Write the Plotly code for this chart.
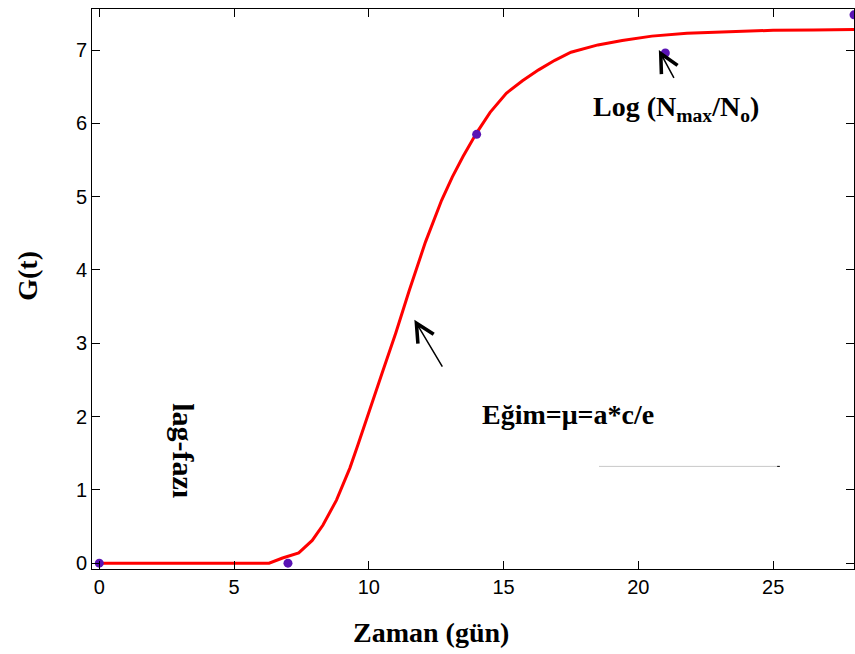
import plotly.graph_objects as go

# Fitted curve
curve_t = [0, 6.3, 6.8, 7.4, 7.9, 8.3, 8.8, 9.3, 9.6, 10.1, 10.5, 11.0, 11.5, 12.1,
           12.7, 13.1, 13.5, 14.0, 14.5, 15.1, 15.7, 16.3, 16.9, 17.5, 18.5, 19.4,
           20.5, 21.8, 22.6, 24.0, 25.0, 26.5, 28.0]
curve_g = [0, 0, 0.07, 0.14, 0.31, 0.52, 0.86, 1.30, 1.62, 2.15, 2.60, 3.14, 3.72, 4.38,
           4.95, 5.27, 5.55, 5.87, 6.15, 6.41, 6.58, 6.73, 6.86, 6.97, 7.07, 7.13,
           7.19, 7.23, 7.24, 7.26, 7.27, 7.275, 7.28]

# Observed points
obs_t = [0, 7, 14, 21, 28]
obs_g = [0, 0, 5.85, 6.96, 7.48]

x_ticks = [0, 5, 10, 15, 20, 25]
y_ticks = [0, 1, 2, 3, 4, 5, 6, 7]

serif = "Liberation Serif, Times New Roman, serif"
sans = "Liberation Sans, Arial, sans-serif"

fig = go.Figure()
fig.add_trace(go.Scatter(x=curve_t, y=curve_g, mode="lines",
                         line=dict(color="#ff0000", width=3),
                         showlegend=False, hoverinfo="skip"))
fig.add_trace(go.Scatter(x=obs_t, y=obs_g, mode="markers",
                         marker=dict(color="#5a14b4", size=9),
                         showlegend=False))

axis_common = dict(showline=True, linecolor="black", linewidth=1, mirror="ticks",
                   ticks="inside", ticklen=8, tickcolor="black", tickwidth=1,
                   showgrid=False, zeroline=False, automargin=False,
                   tickfont=dict(family=sans, size=20, color="black"))

fig.update_xaxes(range=[-0.27, 28.0], tickvals=x_ticks, **axis_common)
fig.update_yaxes(range=[-0.08, 7.56], tickvals=y_ticks, **axis_common)

annotations = [
    dict(text="<b>Zaman (gün)</b>", xref="paper", yref="paper", x=0.445, y=-0.114,
         xanchor="center", yanchor="middle", showarrow=False,
         font=dict(family=serif, size=28, color="black")),
    dict(text="<b>G(t)</b>", xref="paper", yref="paper", x=-0.085, y=0.524,
         xanchor="center", yanchor="middle", showarrow=False, textangle=-90,
         font=dict(family=serif, size=28, color="black")),
    dict(text="<b>Log (N<sub>max</sub>/N<sub>o</sub>)</b>", xref="x", yref="y",
         x=21.4, y=6.2, xanchor="center", yanchor="middle", showarrow=False,
         font=dict(family=serif, size=28, color="black")),
    dict(text="<b>Eğim=μ=a*c/e</b>", xref="x", yref="y",
         x=17.4, y=2.03, xanchor="center", yanchor="middle", showarrow=False,
         font=dict(family=serif, size=28, color="black")),
    dict(text="<b>lag-fazı</b>", xref="x", yref="y",
         x=3.1, y=1.53, xanchor="center", yanchor="middle", showarrow=False,
         textangle=90, font=dict(family=serif, size=30, color="black")),
    # arrows
    dict(x=11.69, y=3.32, ax=12.76, ay=2.66, xref="x", yref="y", axref="x", ayref="y",
         text="", showarrow=True, arrowhead=5, arrowsize=2.4, arrowwidth=1.5,
         arrowcolor="black"),
    dict(x=20.76, y=7.0, ax=21.35, ay=6.6, xref="x", yref="y", axref="x", ayref="y",
         text="", showarrow=True, arrowhead=5, arrowsize=2.4, arrowwidth=1.5,
         arrowcolor="black"),
]

shapes = [
    dict(type="line", xref="x", yref="y", x0=18.54, x1=25.2, y0=1.32, y1=1.32,
         line=dict(color="#c8c8c8", width=1)),
    dict(type="line", xref="x", yref="y", x0=25.15, x1=25.25, y0=1.32, y1=1.32,
         line=dict(color="black", width=1)),
]

fig.update_layout(
    width=855, height=654,
    margin=dict(l=92, r=1, t=9, b=85, autoexpand=False),
    paper_bgcolor="white", plot_bgcolor="white",
    annotations=annotations, shapes=shapes,
    showlegend=False,
)

# remove the default 8px page margin so the figure fills the window exactly
fig.write_html("out.html",
               config={"displayModeBar": False},
               post_script="document.body.style.margin='0';"
                           "document.body.style.overflow='hidden';")
